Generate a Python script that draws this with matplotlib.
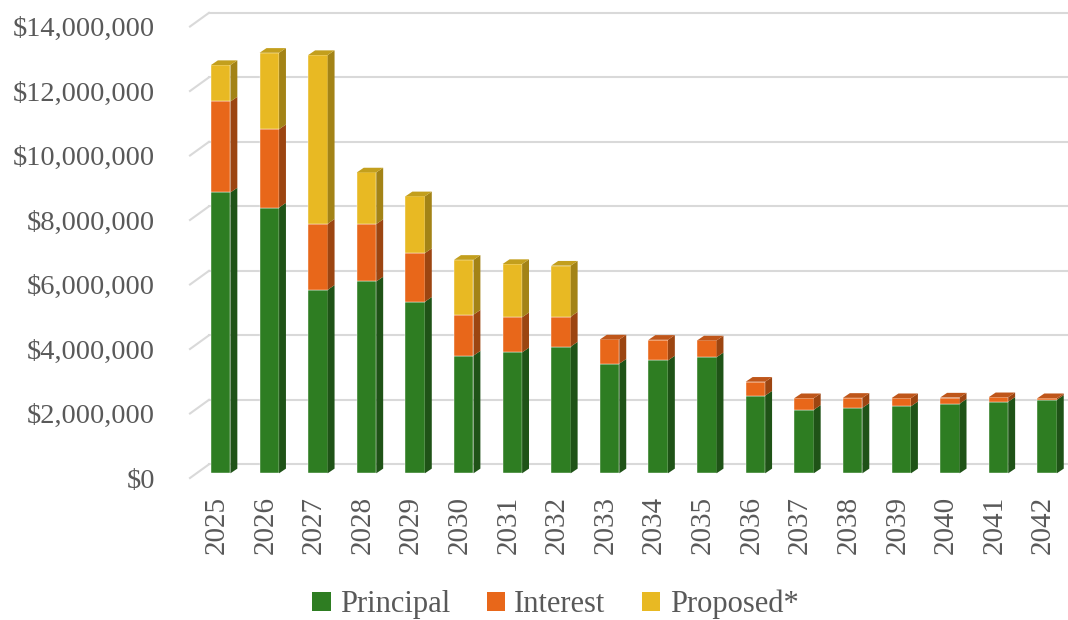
import matplotlib
matplotlib.use("Agg")
from matplotlib import pyplot as plt
from matplotlib import rcParams
from matplotlib.patches import Patch
from matplotlib.transforms import ScaledTranslation

rcParams["font.family"] = ["Liberation Serif", "DejaVu Serif"]
rcParams["text.color"] = "#595959"

years = [str(y) for y in range(2025, 2043)]
principal = [8.71e6, 8.24e6, 5.69e6, 5.95e6, 5.32e6, 3.65e6, 3.75e6, 3.93e6, 3.40e6,
             3.50e6, 3.60e6, 2.41e6, 1.97e6, 2.03e6, 2.08e6, 2.16e6, 2.22e6, 2.28e6]
interest = [2.82e6, 2.43e6, 2.05e6, 1.78e6, 1.51e6, 1.27e6, 1.09e6, 0.93e6, 0.75e6,
            0.64e6, 0.52e6, 0.43e6, 0.36e6, 0.31e6, 0.25e6, 0.19e6, 0.14e6, 0.05e6]
proposed = [1.13e6, 2.37e6, 5.23e6, 1.60e6, 1.76e6, 1.70e6, 1.65e6, 1.58e6, 0, 0, 0,
            0, 0, 0, 0, 0, 0, 0]
y_ticks = [0, 2e6, 4e6, 6e6, 8e6, 10e6, 12e6, 14e6]

series = [
    ("Principal", principal, "#2e7d22", "#1f5317", "#27691c"),
    ("Interest", interest, "#e8671a", "#9c4511", "#bf561a"),
    ("Proposed*", proposed, "#e8b923", "#a38316", "#c39f1d"),
]

# pseudo-3d geometry (data units: categories / dollars)
W = 0.40
DEPTH_X, DEPTH_Y = 0.142, 0.145e6       # bar depth
WALL_X, WALL_Y = 0.259, 0.279e6         # back wall offset from bar front plane
FLOOR_X, FLOOR_Y = -0.132, -0.146e6     # front edge of floor

fig = plt.figure(figsize=(10.68, 6.2), dpi=100)
ax = fig.add_axes([0.1839, 0.2366, 0.8193, 0.7282])
ax.set_xlim(-0.5, 17.5)
ax.set_ylim(0, 14e6)

# back wall gridlines + floor diagonal
for v in y_ticks:
    ax.plot([-0.5 + WALL_X, 17.5 + WALL_X], [v + WALL_Y, v + WALL_Y],
            color="#d9d9d9", lw=1.5, zorder=0, clip_on=False)
    ax.plot([-0.5 + FLOOR_X, -0.5 + WALL_X], [v + FLOOR_Y, v + WALL_Y],
            color="#d9d9d9", lw=1.5, zorder=0, clip_on=False)

xs = list(range(len(years)))
bottoms = [0.0] * len(years)
for name, vals, front, side, top in series:
    ax.bar(xs, vals, bottom=bottoms, width=W, color=front, zorder=2,
           edgecolor="#ffffff", linewidth=0.3)
    for x, b, h in zip(xs, bottoms, vals):
        if h <= 0:
            continue
        r = x + W / 2
        ax.fill([r, r + DEPTH_X, r + DEPTH_X, r],
                [b, b + DEPTH_Y, b + h + DEPTH_Y, b + h],
                color=side, zorder=2, clip_on=False, lw=0)
    bottoms = [b + v for b, v in zip(bottoms, vals)]

# top faces take the colour of the topmost non-empty series
for i, x in enumerate(xs):
    top_color = None
    for name, vals, front, side, top in series:
        if vals[i] > 0:
            top_color = top
    t = bottoms[i]
    ax.fill([x - W / 2, x + W / 2, x + W / 2 + DEPTH_X, x - W / 2 + DEPTH_X],
            [t, t, t + DEPTH_Y, t + DEPTH_Y],
            color=top_color, zorder=2, clip_on=False, lw=0)

for s in ax.spines.values():
    s.set_visible(False)
ax.set_xticks(xs)
ax.set_xticklabels(years, rotation=90)
ax.set_yticks(y_ticks)
ax.set_yticklabels(["${:,.0f}".format(v) for v in y_ticks])
ax.tick_params(axis="both", length=0, labelcolor="#595959")
ax.tick_params(axis="y", pad=29.8, labelsize=20.5)
ax.tick_params(axis="x", pad=16.5, labelsize=21)
for lab in ax.get_yticklabels():
    lab.set_transform(lab.get_transform() + ScaledTranslation(0, -4.7 / 100, fig.dpi_scale_trans))
for lab in ax.get_xticklabels():
    lab.set_transform(lab.get_transform() + ScaledTranslation(-4 / 100, 0, fig.dpi_scale_trans))

handles = [Patch(facecolor=c, edgecolor="none") for _, _, c, _, _ in series]
fig.legend(handles, [s[0] for s in series], loc="center", bbox_to_anchor=(0.52, 0.025),
           ncol=3, frameon=False, fontsize=22, handlelength=0.6, handleheight=0.6,
           handletextpad=0.3, columnspacing=1.2)

fig.savefig("out.png", dpi=100)
